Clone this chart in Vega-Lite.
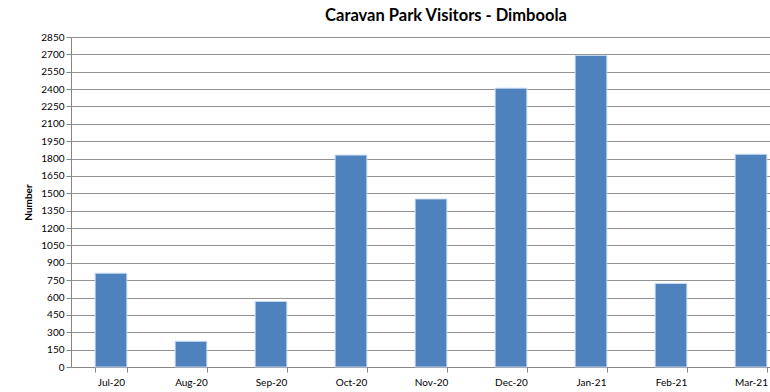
{
  "$schema": "https://vega.github.io/schema/vega-lite/v6.json",
  "autosize": {"type": "none"},
  "padding": {"left": 71, "top": 37, "right": -21, "bottom": 25},
  "width": 720,
  "height": 330,
  "background": "white",
  "title": {
    "text": "Caravan Park Visitors - Dimboola",
    "font": "Lato",
    "fontSize": 16.5,
    "fontWeight": "bold",
    "color": "#000000",
    "anchor": "middle",
    "dx": 15,
    "offset": 8
  },
  "data": {
    "values": [
      {"month": "Jul-20", "visitors": 810},
      {"month": "Aug-20", "visitors": 222},
      {"month": "Sep-20", "visitors": 566},
      {"month": "Oct-20", "visitors": 1830},
      {"month": "Nov-20", "visitors": 1451},
      {"month": "Dec-20", "visitors": 2408},
      {"month": "Jan-21", "visitors": 2690},
      {"month": "Feb-21", "visitors": 721},
      {"month": "Mar-21", "visitors": 1837}
    ]
  },
  "mark": {"type": "bar", "color": "#4F81BD", "stroke": "#C6D9F1", "strokeWidth": 1},
  "encoding": {
    "x": {
      "field": "month",
      "type": "ordinal",
      "sort": null,
      "title": null,
      "scale": {"paddingInner": 0.604, "paddingOuter": 0.302},
      "axis": {
        "labelAngle": 0,
        "labelFont": "Lato",
        "labelFontSize": 10,
        "labelColor": "#000000",
        "labelPadding": 5,
        "domainColor": "#868686",
        "tickColor": "#868686",
        "tickBand": "extent",
        "tickSize": 5,
        "grid": false
      }
    },
    "y": {
      "field": "visitors",
      "type": "quantitative",
      "title": "Number",
      "scale": {"domain": [0, 2850], "nice": false},
      "axis": {
        "values": [0,150,300,450,600,750,900,1050,1200,1350,1500,1650,1800,1950,2100,2250,2400,2550,2700,2850],
        "format": "d",
        "labelFont": "Lato",
        "labelFontSize": 10,
        "labelColor": "#000000",
        "labelPadding": 2,
        "titleFont": "Lato",
        "titleFontSize": 10,
        "titleFontWeight": "bold",
        "titleColor": "#000000",
        "titlePadding": 7,
        "domainColor": "#868686",
        "tickColor": "#868686",
        "tickSize": 5,
        "gridColor": "#868686",
        "gridOpacity": 0.9
      }
    }
  },
  "config": {"view": {"stroke": null}}
}
